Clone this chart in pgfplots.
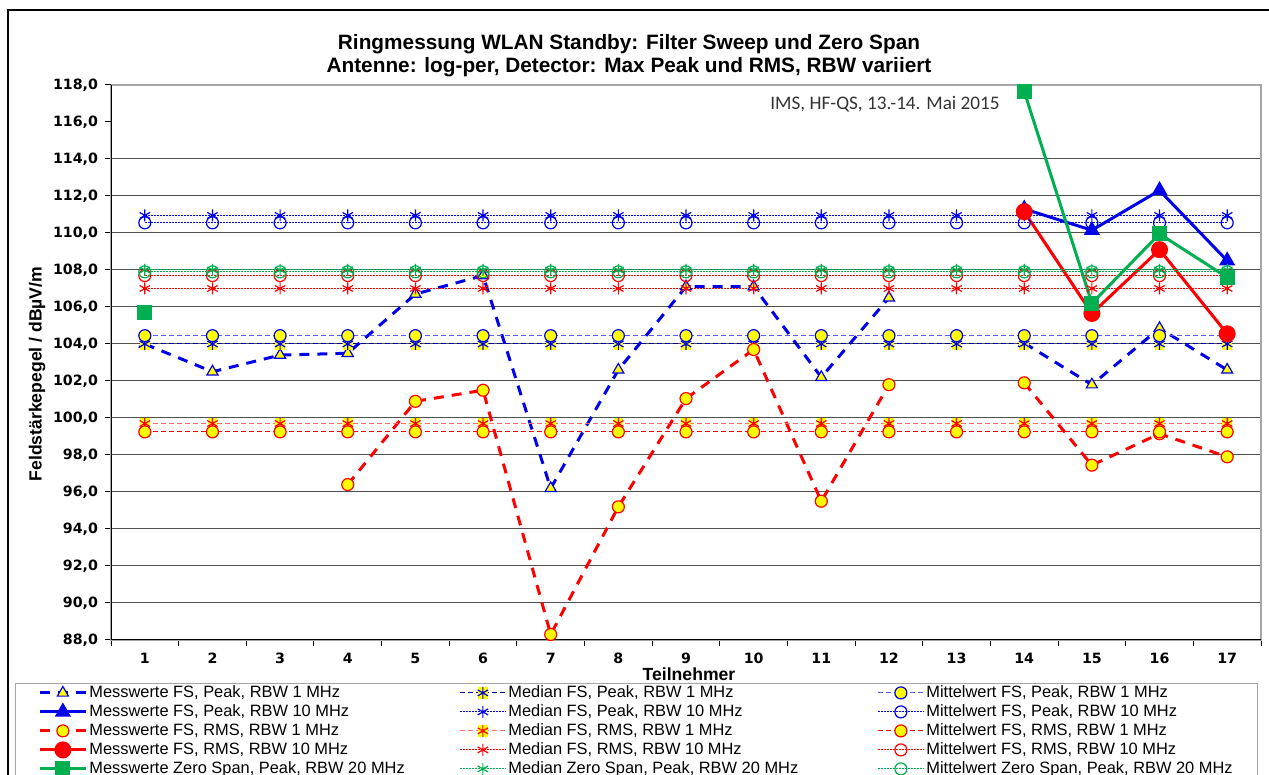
\documentclass[border=0pt]{standalone}
\usepackage{pgfplots}
\pgfplotsset{compat=1.18}
\usepackage{fontspec}
\setmainfont{Liberation Sans}
\newfontfamily\tickfont{DejaVu Sans}
\newfontfamily\calib{Carlito}

\definecolor{cblue}{RGB}{0,0,235}
\definecolor{cnavy}{RGB}{0,0,150}
\definecolor{clblue}{RGB}{90,90,255}
\definecolor{cred}{RGB}{255,0,0}
\definecolor{cpink}{RGB}{255,110,110}
\definecolor{cgreen}{RGB}{0,176,80}
\definecolor{cyellow}{RGB}{255,255,0}
\definecolor{cgrid}{RGB}{80,80,80}

\pgfdeclareplotmark{yast}{%
  \begin{pgfscope}%
  \pgfsetfillcolor{cyellow}%
  \pgfpathrectangle{\pgfqpoint{-0.8\pgfplotmarksize}{-\pgfplotmarksize}}{\pgfqpoint{1.6\pgfplotmarksize}{2\pgfplotmarksize}}%
  \pgfusepathqfill
  \end{pgfscope}%
  \pgfuseplotmark{asterisk}%
}

\newcommand{\La}[1]{\makebox[184pt][l]{#1}}
\newcommand{\Lb}[1]{\makebox[183.5pt][l]{#1}}
\newcommand{\Lc}[1]{\makebox[153pt][l]{#1}}

\begin{document}
\begin{tikzpicture}
% outer frame
\draw[line width=1pt] (4pt,-5pt) -- (4pt,382.5pt) -- (640pt,382.5pt);
% x label (under legend box)
\node[font=\bfseries\fontsize{8.8}{10}\selectfont, inner sep=0pt] at (344.5pt,50.5pt) {Teilnehmer};
\begin{axis}[
  at={(55.5pt,67.5pt)}, anchor=south west,
  scale only axis, width=575pt, height=277.5pt,
  xmin=0.5, xmax=17.5, ymin=88, ymax=118,
  xtick={0.5,1.5,...,17.5},
  x tick label as interval,
  xticklabels={1,2,3,4,5,6,7,8,9,10,11,12,13,14,15,16,17},
  ytick={88,90,...,114},
  extra y ticks={116,118},
  extra y tick style={grid=none},
  tick align=outside,
  xtick pos=bottom, ytick pos=left,
  major tick length=3pt,
  tick style={black, line width=0.5pt},
  ymajorgrids,
  grid style={cgrid, line width=0.5pt},
  axis line style={draw=gray!70, line width=1pt},
  tick label style={font=\tickfont\bfseries\fontsize{7.1}{8}\selectfont},
  /pgf/number format/assume math mode=true,
  yticklabel style={/pgf/number format/.cd, fixed, fixed zerofill, precision=1, use comma},
  unbounded coords=jump,
  legend columns=3,
  legend cell align=left,
  legend image code/.code={\draw[mark repeat=2,mark phase=2] plot coordinates {(0pt,0pt) (11.5pt,0pt) (23pt,0pt)};},
  legend style={at={(-0.08348,-0.07748)}, anchor=north west, draw=gray!70, fill=white,
    inner xsep=11.5pt, inner ysep=0pt, font=\fontsize{8.2}{9.5}\selectfont,
    nodes={inner xsep=1pt, inner ysep=0.5pt, text height=6.5pt, text depth=2pt},
    row sep=0pt, column sep=0pt},
]
% 1 Messwerte FS Peak 1 MHz
\addplot[cblue, line width=1.5pt, dash pattern=on 5pt off 4pt, mark=triangle*, mark size=3.2pt,
  mark options={solid, fill=cyellow, draw=cblue, line width=0.6pt}]
  coordinates {(1,104.0)(2,102.5)(3,103.4)(4,103.5)(5,106.7)(6,107.7)(7,96.2)(8,102.6)(9,107.1)(10,107.1)(11,102.2)(12,106.5)(13,nan)(14,104.05)(15,101.8)(16,104.85)(17,102.6)};
\addlegendentry{\La{Messwerte FS, Peak, RBW 1 MHz}}
% 2 Median FS Peak 1 MHz
\addplot[cnavy, line width=0.5pt, dash pattern=on 2.5pt off 1.5pt, mark=yast, mark size=3pt,
  mark options={solid, draw=cblue, line width=0.6pt}]
  coordinates {(1,104.0)(2,104.0)(3,104.0)(4,104.0)(5,104.0)(6,104.0)(7,104.0)(8,104.0)(9,104.0)(10,104.0)(11,104.0)(12,104.0)(13,104.0)(14,104.0)(15,104.0)(16,104.0)(17,104.0)};
\addlegendentry{\Lb{Median FS, Peak, RBW 1 MHz}}
% 3 Mittelwert FS Peak 1 MHz
\addplot[clblue, line width=0.5pt, dash pattern=on 2.5pt off 1.5pt, mark=*, mark size=3pt,
  mark options={solid, fill=cyellow, draw=cblue, line width=0.6pt}]
  coordinates {(1,104.45)(2,104.45)(3,104.45)(4,104.45)(5,104.45)(6,104.45)(7,104.45)(8,104.45)(9,104.45)(10,104.45)(11,104.45)(12,104.45)(13,104.45)(14,104.45)(15,104.45)(16,104.45)(17,104.45)};
\addlegendentry{\Lc{Mittelwert FS, Peak, RBW 1 MHz}}
% 4 Messwerte FS Peak 10 MHz
\addplot[cblue, line width=1.5pt, mark=triangle*, mark size=3.2pt,
  mark options={solid, fill=cblue, draw=cblue}]
  coordinates {(14,111.3)(15,110.15)(16,112.3)(17,108.5)};
\addlegendentry{\La{Messwerte FS, Peak, RBW 10 MHz}}
% 5 Median FS Peak 10 MHz
\addplot[cblue, line width=0.5pt, dash pattern=on 1pt off 0.5pt, mark=asterisk, mark size=3pt,
  mark options={solid, draw=cblue, line width=0.6pt}]
  coordinates {(1,110.95)(2,110.95)(3,110.95)(4,110.95)(5,110.95)(6,110.95)(7,110.95)(8,110.95)(9,110.95)(10,110.95)(11,110.95)(12,110.95)(13,110.95)(14,110.95)(15,110.95)(16,110.95)(17,110.95)};
\addlegendentry{\Lb{Median FS, Peak, RBW 10 MHz}}
% 6 Mittelwert FS Peak 10 MHz
\addplot[cblue, line width=0.5pt, dash pattern=on 1pt off 0.5pt, mark=o, mark size=3pt,
  mark options={solid, draw=cblue, line width=0.6pt}]
  coordinates {(1,110.55)(2,110.55)(3,110.55)(4,110.55)(5,110.55)(6,110.55)(7,110.55)(8,110.55)(9,110.55)(10,110.55)(11,110.55)(12,110.55)(13,110.55)(14,110.55)(15,110.55)(16,110.55)(17,110.55)};
\addlegendentry{\Lc{Mittelwert FS, Peak, RBW 10 MHz}}
% 7 Messwerte FS RMS 1 MHz
\addplot[cred, line width=1.5pt, dash pattern=on 5pt off 4pt, mark=*, mark size=3pt,
  mark options={solid, fill=cyellow, draw=cred, line width=0.6pt}]
  coordinates {(4,96.4)(5,100.9)(6,101.5)(7,88.3)(8,95.2)(9,101.05)(10,103.7)(11,95.5)(12,101.8)(13,nan)(14,101.9)(15,97.45)(16,99.15)(17,97.9)};
\addlegendentry{\La{Messwerte FS, RMS, RBW 1 MHz}}
% 8 Median FS RMS 1 MHz
\addplot[cpink, line width=0.5pt, dash pattern=on 2.5pt off 1.5pt, mark=yast, mark size=3pt,
  mark options={solid, draw=cred, line width=0.6pt}]
  coordinates {(1,99.7)(2,99.7)(3,99.7)(4,99.7)(5,99.7)(6,99.7)(7,99.7)(8,99.7)(9,99.7)(10,99.7)(11,99.7)(12,99.7)(13,99.7)(14,99.7)(15,99.7)(16,99.7)(17,99.7)};
\addlegendentry{\Lb{Median FS, RMS, RBW 1 MHz}}
% 9 Mittelwert FS RMS 1 MHz
\addplot[cred, line width=0.5pt, dash pattern=on 2.5pt off 1.5pt, mark=*, mark size=3pt,
  mark options={solid, fill=cyellow, draw=cred, line width=0.6pt}]
  coordinates {(1,99.25)(2,99.25)(3,99.25)(4,99.25)(5,99.25)(6,99.25)(7,99.25)(8,99.25)(9,99.25)(10,99.25)(11,99.25)(12,99.25)(13,99.25)(14,99.25)(15,99.25)(16,99.25)(17,99.25)};
\addlegendentry{\Lc{Mittelwert FS, RMS, RBW 1 MHz}}
% 10 Messwerte FS RMS 10 MHz
\addplot[cred, line width=1.5pt, mark=*, mark size=3.5pt,
  mark options={solid, fill=cred, draw=cred}]
  coordinates {(14,111.15)(15,105.65)(16,109.1)(17,104.55)};
\addlegendentry{\La{Messwerte FS, RMS, RBW 10 MHz}}
% 11 Median FS RMS 10 MHz
\addplot[cred, line width=0.5pt, dash pattern=on 1pt off 0.5pt, mark=asterisk, mark size=3pt,
  mark options={solid, draw=cred, line width=0.6pt}]
  coordinates {(1,107.0)(2,107.0)(3,107.0)(4,107.0)(5,107.0)(6,107.0)(7,107.0)(8,107.0)(9,107.0)(10,107.0)(11,107.0)(12,107.0)(13,107.0)(14,107.0)(15,107.0)(16,107.0)(17,107.0)};
\addlegendentry{\Lb{Median FS, RMS, RBW 10 MHz}}
% 12 Mittelwert FS RMS 10 MHz
\addplot[cred, line width=0.5pt, dash pattern=on 1pt off 0.5pt, mark=o, mark size=3pt,
  mark options={solid, draw=cred, line width=0.6pt}]
  coordinates {(1,107.7)(2,107.7)(3,107.7)(4,107.7)(5,107.7)(6,107.7)(7,107.7)(8,107.7)(9,107.7)(10,107.7)(11,107.7)(12,107.7)(13,107.7)(14,107.7)(15,107.7)(16,107.7)(17,107.7)};
\addlegendentry{\Lc{Mittelwert FS, RMS, RBW 10 MHz}}
% 13 Messwerte Zero Span
\addplot[cgreen, line width=1.5pt, mark=square*, mark size=3pt,
  mark options={solid, fill=cgreen, draw=cgreen}]
  coordinates {(1,105.7)(2,nan)(14,117.65)(15,106.2)(16,109.95)(17,107.6)};
\addlegendentry{\La{Messwerte Zero Span, Peak, RBW 20 MHz}}
% 14 Median Zero Span
\addplot[cgreen, line width=0.5pt, dash pattern=on 1pt off 0.5pt, mark=asterisk, mark size=3pt,
  mark options={solid, draw=cgreen, line width=0.6pt}]
  coordinates {(1,108.0)(2,108.0)(3,108.0)(4,108.0)(5,108.0)(6,108.0)(7,108.0)(8,108.0)(9,108.0)(10,108.0)(11,108.0)(12,108.0)(13,108.0)(14,108.0)(15,108.0)(16,108.0)(17,108.0)};
\addlegendentry{\Lb{Median Zero Span, Peak, RBW 20 MHz}}
% 15 Mittelwert Zero Span
\addplot[cgreen, line width=0.5pt, dash pattern=on 1pt off 0.5pt, mark=o, mark size=3pt,
  mark options={solid, draw=cgreen, line width=0.6pt}]
  coordinates {(1,107.9)(2,107.9)(3,107.9)(4,107.9)(5,107.9)(6,107.9)(7,107.9)(8,107.9)(9,107.9)(10,107.9)(11,107.9)(12,107.9)(13,107.9)(14,107.9)(15,107.9)(16,107.9)(17,107.9)};
\addlegendentry{\Lc{Mittelwert Zero Span, Peak, RBW 20 MHz}}
% left and bottom axis lines in black
\draw[black, line width=1pt] (rel axis cs:0,1) -- (rel axis cs:0,0) -- (rel axis cs:1,0);
\end{axis}
% title
\node[anchor=base, inner sep=0pt, font=\bfseries\fontsize{10.4}{12}\selectfont] at (314.5pt,362.8pt) {Ringmessung WLAN Standby: Filter Sweep und Zero Span};
\node[anchor=base, inner sep=0pt, font=\bfseries\fontsize{10.4}{12}\selectfont] at (314.5pt,351.3pt) {Antenne: log-per, Detector: Max Peak und RMS, RBW variiert};
% annotation
\node[anchor=base west, inner sep=0pt, text=black!80, font=\calib\fontsize{9.6}{11}\selectfont] at (385pt,332.8pt) {IMS, HF-QS, 13.-14. Mai 2015};
% y label
\node[rotate=90, inner sep=0pt, font=\bfseries\fontsize{8.8}{10}\selectfont] at (18.5pt,200.5pt) {Feldstärkepegel / dBµV/m};
\pgfresetboundingbox
\useasboundingbox (0,0) rectangle (634.5pt,387.5pt);
\end{tikzpicture}
\end{document}
